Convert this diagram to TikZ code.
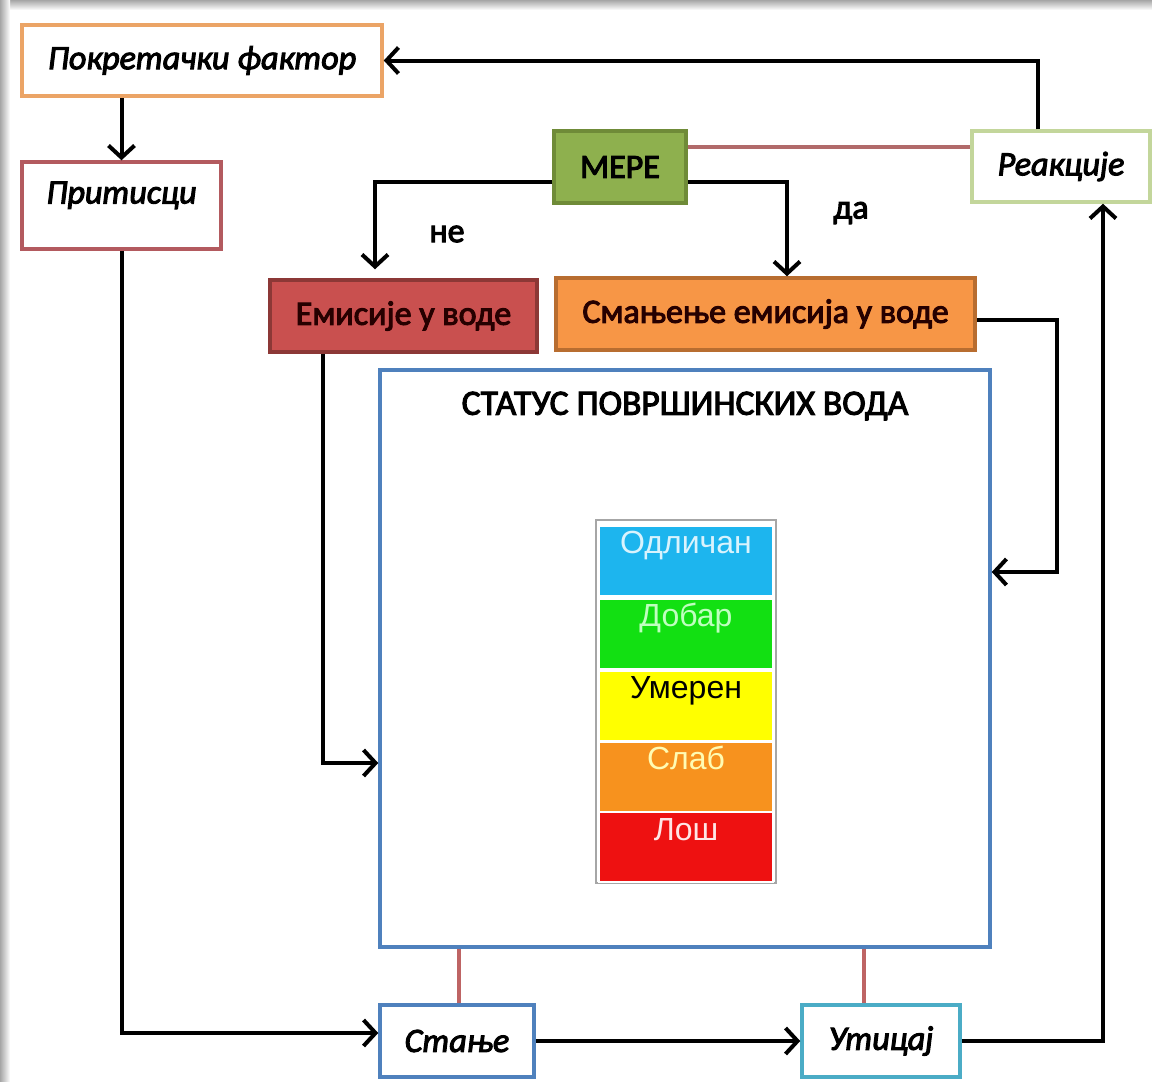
\documentclass[tikz,border=0pt]{standalone}
\usepackage{fontspec}
\setmainfont{Carlito}[BoldFont=Carlito, BoldItalicFont=Carlito Italic,
  BoldFeatures={FakeBold=3}, BoldItalicFeatures={FakeBold=3}]
\newfontfamily\levelfont{Liberation Sans}
\usetikzlibrary{arrows.meta}
\definecolor{pfC}{HTML}{EBA466}
\definecolor{prC}{HTML}{B35A5F}
\definecolor{mereF}{HTML}{8EB04E}
\definecolor{mereD}{HTML}{6F8B38}
\definecolor{reakC}{HTML}{C3D69B}
\definecolor{emisF}{HTML}{C9504F}
\definecolor{emisD}{HTML}{8C3836}
\definecolor{smanF}{HTML}{F79646}
\definecolor{smanD}{HTML}{B86D30}
\definecolor{statC}{HTML}{4F81BD}
\definecolor{uticC}{HTML}{4BACC6}
\definecolor{tieC}{HTML}{BE6464}
\definecolor{lvA}{HTML}{1DB5EE}
\definecolor{lvB}{HTML}{12E012}
\definecolor{lvC}{HTML}{FFFF00}
\definecolor{lvD}{HTML}{F7921E}
\definecolor{lvE}{HTML}{EE1111}
\tikzset{
  box/.style={draw, line width=3.5pt, minimum width=#1, inner sep=0pt,
    minimum height=72pt, font=\fontsize{34}{40}\selectfont\bfseries},
  ibox/.style={box=#1, font=\fontsize{34}{40}\selectfont\bfseries\itshape},
  arr/.style={draw=black, line width=4pt,
    -{Straight Barb[length=12pt,width=26pt]}},
  tie/.style={draw=tieC, line width=4pt},
  level/.style={draw=white, line width=2pt, fill=#1, minimum width=174pt,
    minimum height=70pt, inner sep=0pt, text depth=34pt, text height=20pt,
    font=\levelfont\fontsize{32}{36}\selectfont},
  lbl/.style={font=\fontsize{34}{40}\selectfont\bfseries}
}
\begin{document}
\begin{tikzpicture}[x=1pt, y=-1pt]
\useasboundingbox (0,0) rectangle (1152,1082);
\fill[white] (0,0) rectangle (1152,1082);
% soft grey frame along the top and left edges
\shade[top color=gray!70, bottom color=white] (0,0) rectangle (1152,10);
\shade[left color=gray!70, right color=white] (0,0) rectangle (10,1082);

% boxes
\node[ibox=360pt, draw=pfC, minimum height=71pt] (pf) at (202,60.5) {Покретачки фактор};
\node[ibox=199pt, draw=prC, minimum height=87pt, text depth=26pt, text height=22pt] (pr) at (121.5,205.5) {Притисци};
\node[box=132pt, draw=mereD, fill=mereF] (mere) at (620,167) {МЕРЕ};
\node[ibox=178pt, draw=reakC, minimum height=71pt] (reak) at (1061,166.5) {Реакције};
\node[box=267pt, draw=emisD, fill=emisF, text=black!85!red] (emis) at (403.5,316) {Емисије у воде};
\node[box=419pt, draw=smanD, fill=smanF, text=black!85!red] (sman) at (765.5,314) {Смањење емисија у воде};
\node[draw=statC, line width=3.5pt, minimum width=610pt, minimum height=577pt] (status) at (685,658.5) {};
\node[font=\fontsize{35.5}{40}\selectfont\bfseries] (title) at (685,406) {СТАТУС ПОВРШИНСКИХ ВОДА};
\node[ibox=154pt, draw=statC] (stanje) at (457,1041) {Стање};
\node[ibox=158pt, draw=uticC] (utic) at (881,1041) {Утицај};

% status levels
\node[draw=gray!70, line width=2pt, minimum width=180pt, minimum height=363pt, inner sep=0pt] (table) at (686,701.5) {};
\node[level=lvA, text=cyan!15] (l1) at (686,560.5) {Одличан};
\node[level=lvB, text=green!25] (l2) at (686,633.5) {Добар};
\node[level=lvC, text=black] (l3) at (686,705.5) {Умерен};
\node[level=lvD, text=yellow!30] (l4) at (686,776.5) {Слаб};
\node[level=lvE, text=red!10] (l5) at (686,847) {Лош};

% labels
\node[lbl] (ne) at (447,234) {не};
\node[lbl] (da) at (851,213) {да};

% connectors
\draw[arr] ([xshift=-23pt]reak.north) |- (pf.east);
\draw[arr] (pf.south -| pr.north) -- (pr.north);
\draw[arr] (pr.south) |- ([yshift=8pt]stanje.west);
\draw[arr] (stanje.east) -- (utic.west);
\draw[arr] (utic.east) -| ([xshift=42pt]reak.south);
\draw[arr, shorten >=9pt] ([yshift=-15pt]mere.west) -| ([xshift=-28.5pt]emis.north);
\draw[arr] ([yshift=-15pt]mere.east) -| ([xshift=21.5pt]sman.north);
\draw[arr] ([xshift=-80.5pt]emis.south) |- ([yshift=-104.5pt]status.west);
\draw[arr] ([yshift=-6pt]sman.east) -- ++(80,0) |- ([yshift=86.5pt]status.east);

% plain links
\draw[tie, draw=tieC!80!gray] ([yshift=20pt]mere.east) -- ([yshift=20pt]mere.east -| reak.west);
\draw[tie] ([xshift=-226pt]status.south) -- ([xshift=-226pt]status.south |- stanje.north);
\draw[tie] ([xshift=179pt]status.south) -- ([xshift=179pt]status.south |- utic.north);
\end{tikzpicture}
\end{document}
